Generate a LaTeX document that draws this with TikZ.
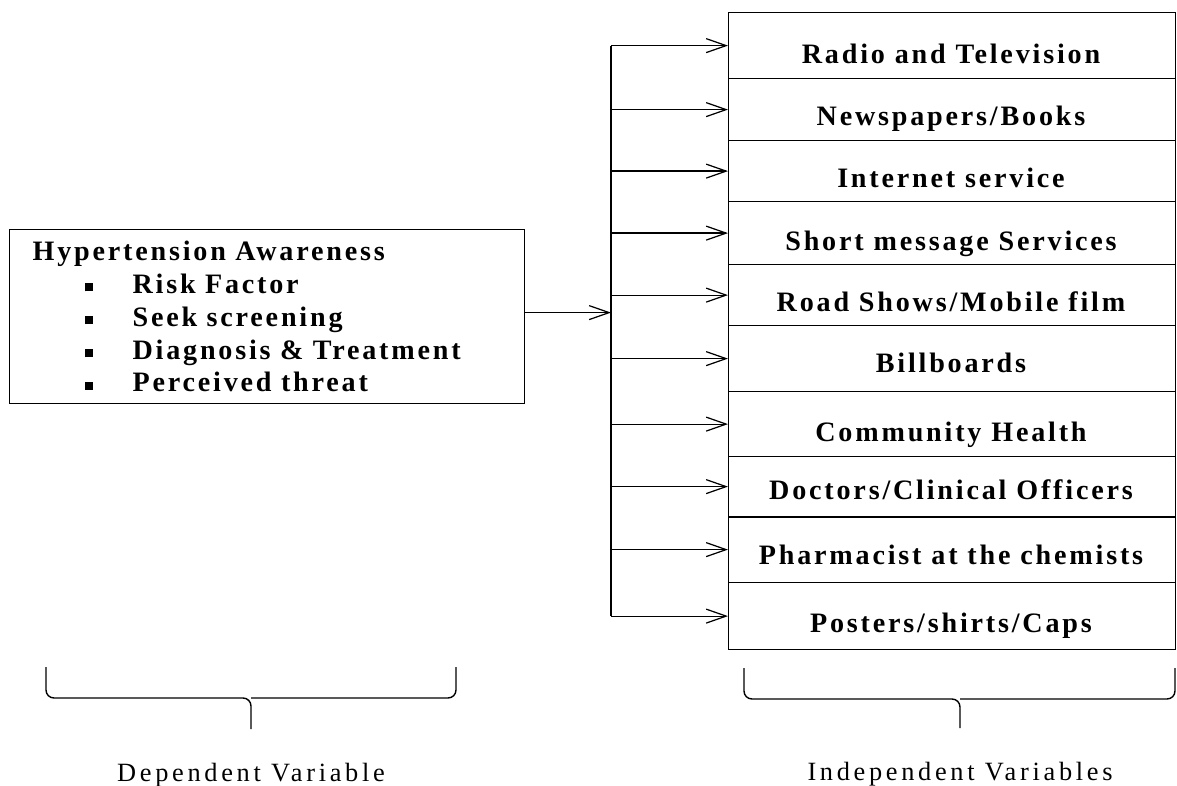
\documentclass[tikz,border=0pt]{standalone}
\usepackage{fontspec}
\setmainfont{Liberation Serif}
\newfontfamily\spaced[LetterSpace=10]{Liberation Serif}
\newfontfamily\widespaced[LetterSpace=14]{Liberation Serif}
\usetikzlibrary{positioning,arrows.meta}

\newcommand{\bitem}[1]{\hspace*{1.04cm}\rule[0.04cm]{0.16cm}{0.16cm}\hspace{0.8cm}#1}

\begin{document}
\begin{tikzpicture}[x=0.02cm,y=-0.02cm]

\useasboundingbox (0,0) rectangle (1177,785);

\tikzstyle{awarebox} = [draw, line width=0.7pt, rectangle, inner xsep=0.46cm, inner ysep=0pt, text width=9.38cm, minimum height=3.48cm, align=left, font=\spaced\bfseries\fontsize{16}{18.7}\selectfont]
\tikzstyle{rowbox} = [draw, line width=0.7pt, rectangle, inner sep=0pt, minimum width=8.94cm, anchor=north west]
\tikzstyle{rowtext} = [anchor=base, inner sep=0pt, font=\spaced\bfseries\fontsize{16}{18}\selectfont]
\tikzstyle{varlabel} = [inner sep=0pt, font=\widespaced\fontsize{15}{17}\selectfont]
\tikzstyle{feed} = [line width=0.7pt, -{Straight Barb[length=0.4cm,width=0.28cm]}]
\tikzstyle{brace} = [line width=0.8pt, rounded corners=0.16cm]

% left box
\node (aware) [awarebox, anchor=north west] at (9,229) {Hypertension Awareness\\
\bitem{Risk Factor}\\
\bitem{Seek screening}\\
\bitem{Diagnosis \& Treatment}\\
\bitem{Perceived threat}};

% the channels
\node (r1) [rowbox, minimum height=1.32cm] at (728,12) {};
\node (r2) [rowbox, minimum height=1.24cm] at (728,78) {};
\node (r3) [rowbox, minimum height=1.22cm] at (728,140) {};
\node (r4) [rowbox, minimum height=1.26cm] at (728,201) {};
\node (r5) [rowbox, minimum height=1.22cm] at (728,264) {};
\node (r6) [rowbox, minimum height=1.32cm] at (728,325) {};
\node (r7) [rowbox, minimum height=1.30cm] at (728,391) {};
\node (r8) [rowbox, minimum height=1.20cm] at (728,456) {};
\node (r9) [rowbox, minimum height=1.32cm] at (728,516) {};
\node (r10) [rowbox, minimum height=1.34cm] at (728,582) {};
\draw [line width=1.4pt] (r8.south west) -- (r8.south east);

\node (t1) [rowtext] at (951,63) {Radio and Television};
\node (t2) [rowtext] at (951,125) {Newspapers/Books};
\node (t3) [rowtext] at (951,187) {Internet service};
\node (t4) [rowtext] at (951,250) {Short message Services};
\node (t5) [rowtext] at (951,311) {Road Shows/Mobile film};
\node (t6) [rowtext] at (951,372) {Billboards};
\node (t7) [rowtext] at (951,441) {Community Health};
\node (t8) [rowtext] at (951,499) {Doctors/Clinical Officers};
\node (t9) [rowtext] at (951,564) {Pharmacist at the chemists};
\node (t10) [rowtext] at (951,632) {Posters/shirts/Caps};

% connectors
\coordinate (bus) at (611,0);
\draw [line width=0.7pt] (bus |- r1.west) -- (bus |- r10.west);
\draw [feed] ([yshift=0.08cm]aware.east) -- ([yshift=0.08cm]bus |- aware.east);
\foreach \r in {r1,r2,r3,r4,r5,r6,r7,r8,r9,r10}
  \draw [feed] (bus |- \r.west) -- (\r.west);

% braces
\coordinate (ltip) at (251,729);
\coordinate (rtip) at (960,728);
\draw [brace] (46,667) |- (251,698) -- (ltip);
\draw [brace] (456,667) |- (251,698);
\draw [brace] (744,668) |- (960,699) -- (rtip);
\draw [brace] (1175,668) |- (960,699);

\node (dep) [varlabel, below=0.68cm of ltip] {Dependent Variable};
\node (indep) [varlabel, below=0.68cm of rtip] {Independent Variables};

\end{tikzpicture}
\end{document}
